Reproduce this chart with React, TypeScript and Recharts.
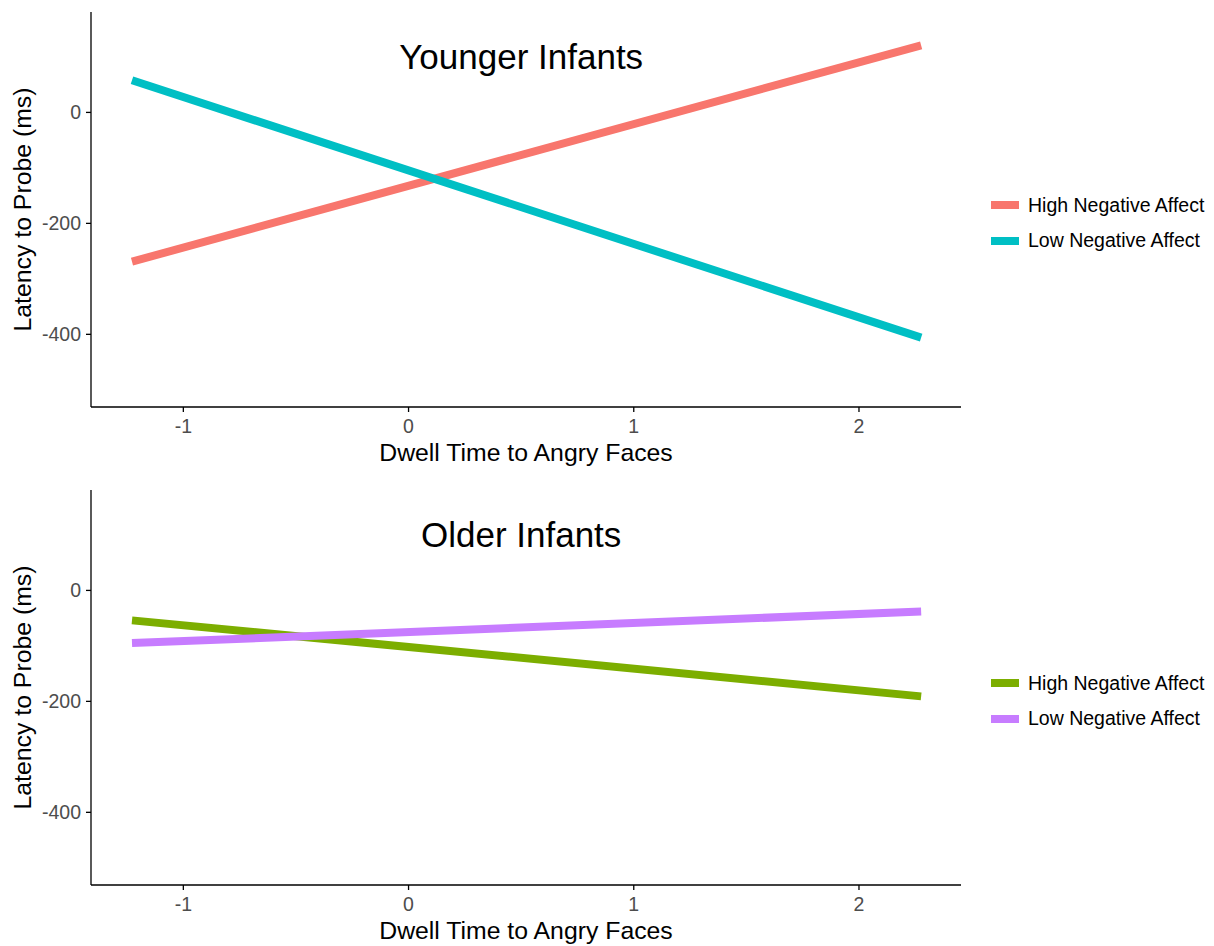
import React from 'react';
import {
  LineChart, Line, XAxis, YAxis, ReferenceDot, Label,
} from 'recharts';

// fitted regression lines
const dwellRange = [-1.228, 2.276];
const youngerHigh = [-269, 121];
const youngerLow = [58, -406];
const olderHigh = [-54, -191];
const olderLow = [-95, -38];

const xTicks = [-1, 0, 1, 2];
const yTicks = [-400, -200, 0];
const xDomain: [number, number] = [-1.41, 2.453];
const yDomain: [number, number] = [-531, 181];

const seriesNames = ['High Negative Affect', 'Low Negative Affect'];
const titlePos = { x: 0.5, y: 100 };

const FONT = '"Liberation Sans", Arial, Helvetica, sans-serif';
const W = 1214;
const H = 473;

type Panel = {
  title: string;
  high: number[];
  low: number[];
  colors: [string, string];
  top: number;
};

const PANELS: Panel[] = [
  { title: 'Younger Infants', high: youngerHigh, low: youngerLow, colors: ['#F8766D', '#00BFC4'], top: 0 },
  { title: 'Older Infants', high: olderHigh, low: olderLow, colors: ['#7CAE00', '#C77CFF'], top: 478 },
];

const toPoints = (ys: number[]) => dwellRange.map((x, i) => ({ x, y: ys[i] }));

function PanelChart({ p }: { p: Panel }) {
  const tick = { fill: '#4d4d4d', fontSize: 19.5, fontFamily: FONT };
  return (
    <div style={{ position: 'absolute', left: 0, top: p.top, width: W, height: H }}>
      <LineChart width={W} height={H} margin={{ top: 12, right: 253, left: 0, bottom: 6 }}>
        <XAxis
          type="number"
          dataKey="x"
          domain={xDomain}
          ticks={xTicks}
          allowDataOverflow
          height={60}
          tick={tick}
          tickSize={5}
          tickMargin={7}
          axisLine={{ stroke: '#000', strokeWidth: 1.3 }}
          tickLine={{ stroke: '#000', strokeWidth: 1.3 }}
        >
          <Label
            value="Dwell Time to Angry Faces"
            position="insideTop"
            offset={36}
            style={{ fill: '#000', fontSize: 24.8, fontFamily: FONT }}
          />
        </XAxis>
        <YAxis
          type="number"
          dataKey="y"
          domain={yDomain}
          ticks={yTicks}
          allowDataOverflow
          width={91}
          tick={tick}
          tickSize={5}
          tickMargin={5}
          axisLine={{ stroke: '#000', strokeWidth: 1.3 }}
          tickLine={{ stroke: '#000', strokeWidth: 1.3 }}
        >
          <Label
            value="Latency to Probe (ms)"
            angle={-90}
            position="insideLeft"
            offset={22}
            style={{ fill: '#000', fontSize: 24.8, fontFamily: FONT, textAnchor: 'middle' }}
          />
        </YAxis>
        <Line
          data={toPoints(p.high)}
          dataKey="y"
          name={seriesNames[0]}
          type="linear"
          stroke={p.colors[0]}
          strokeWidth={8}
          dot={false}
          activeDot={false}
          isAnimationActive={false}
        />
        <Line
          data={toPoints(p.low)}
          dataKey="y"
          name={seriesNames[1]}
          type="linear"
          stroke={p.colors[1]}
          strokeWidth={8}
          dot={false}
          activeDot={false}
          isAnimationActive={false}
        />
        <ReferenceDot
          x={titlePos.x}
          y={titlePos.y}
          r={0}
          fill="none"
          stroke="none"
          label={{ value: p.title, position: 'center', fill: '#000', fontSize: 35, fontFamily: FONT }}
        />
      </LineChart>

      {/* legend */}
      {seriesNames.map((name, i) => (
        <div
          key={name}
          style={{ position: 'absolute', left: 991, top: 205 + i * 35.7 - 12, height: 24, display: 'flex', alignItems: 'center' }}
        >
          <span style={{ width: 28, height: 8, background: p.colors[i], display: 'inline-block' }} />
          <span style={{ marginLeft: 9, fontSize: 19.5, fontFamily: FONT, color: '#000', whiteSpace: 'nowrap' }}>{name}</span>
        </div>
      ))}
    </div>
  );
}

export default function App() {
  return (
    <div style={{ position: 'absolute', left: 0, top: 0, width: W, height: 946, background: '#fff' }}>
      {PANELS.map((p) => <PanelChart key={p.title} p={p} />)}
    </div>
  );
}
